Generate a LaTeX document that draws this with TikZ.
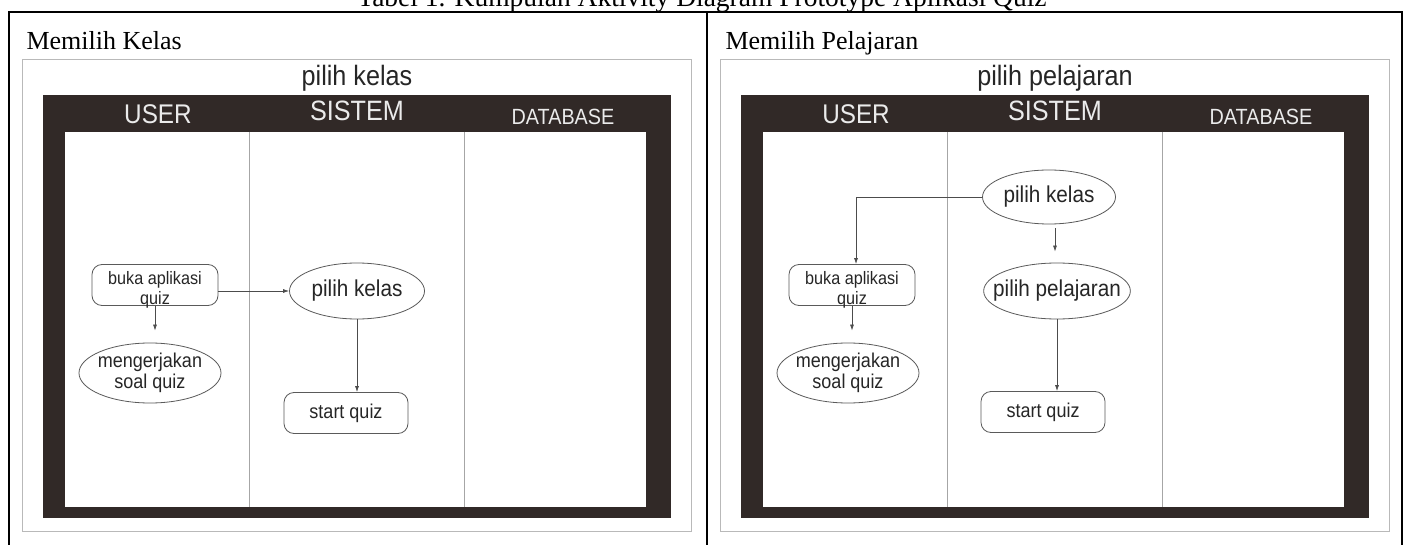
\documentclass[tikz,border=0pt]{standalone}
\usepackage{fontspec}
\setmainfont{Liberation Serif}
\newfontfamily\swfont[FakeStretch=0.9]{Liberation Sans}
\usetikzlibrary{shapes.geometric,arrows.meta}

\definecolor{band}{HTML}{312927}
\definecolor{edge}{HTML}{5A5A5A}

\tikzset{
  act/.style={draw=edge, line width=0.8pt, rounded corners=10pt, minimum width=126pt,
    minimum height=41pt, inner sep=0pt, align=center, text=black!85,
    font=\swfont\fontsize{18}{20}\selectfont},
  lowtext/.style={text height=39pt, text depth=0pt},
  bub/.style={ellipse, draw=edge, line width=0.8pt, inner sep=-12pt, align=center,
    text=black!85, font=\swfont\fontsize{20}{21}\selectfont},
  arr/.style={draw=black!70, line width=0.7pt, -{Latex[length=6pt,width=4pt]}},
  lanehead/.style={text=white!92!black, font=\swfont\fontsize{27}{30}\selectfont}
}

\begin{document}
\begin{tikzpicture}[x=1pt,y=-1pt]
  \useasboundingbox (0,0) rectangle (1410,545);
  % tabel
  \node (cap) [anchor=base, font=\fontsize{27.5}{30}\selectfont] at (702,7)
    {Tabel 1. Kumpulan Aktivity Diagram Prototype Aplikasi Quiz};
  \draw[line width=2pt] (9,545) -- (9,12.5) -- (1402,12.5) -- (1402,545);
  \draw[line width=2pt] (707,12.5) -- (707,545);
  \node (kiri) [anchor=base west, font=\fontsize{26}{30}\selectfont] at (23,50) {Memilih Kelas};
  \node (kanan) [anchor=base west, font=\fontsize{26}{30}\selectfont] at (722,50) {Memilih Pelajaran};

  % swimlane
  \foreach \dx/\ttl in {0/pilih kelas, 698/pilih pelajaran}{
  \begin{scope}[xshift=\dx pt]
    \draw[gray!55, line width=1pt, fill=white] (22,60) rectangle (691,531);
    \fill[band] (43,95) rectangle (671,518);
    \fill[white] (65,132) rectangle (646,507);
    \draw[gray!70, line width=0.7pt] (249,132) -- (249,507) (464,132) -- (464,507);
    \node (judul\dx) [text=black!85, font=\swfont\fontsize{28}{30}\selectfont] at (357,78) {\ttl};
    \node (user\dx) [lanehead] at (158,114) {USER};
    \node (sis\dx) [lanehead, font=\swfont\fontsize{28}{30}\selectfont] at (357,111) {SISTEM};
    \node (db\dx) [lanehead, font=\swfont\fontsize{22}{30}\selectfont] at (563,117) {DATABASE};
  \end{scope}
  }

  % pilih kelas
  \node (buka) [act, lowtext] at (155,285) {buka aplikasi\\quiz};
  \node (kerja) [bub, minimum width=142pt, minimum height=60pt] at (150,373) {mengerjakan\\soal quiz};
  \node (kelas) [bub, minimum width=135pt, minimum height=56pt, font=\swfont\fontsize{23}{25}\selectfont] at (357,291) {pilih kelas};
  \node (start) [act, minimum width=124pt, font=\swfont\fontsize{20}{22}\selectfont] at (346,413) {start quiz};
  \draw[arr] (buka.east |- kelas.west) -- (kelas.west);
  \draw[arr, shorten >=12pt] (buka.south) -- (buka.south |- kerja.north);
  \draw[arr] (kelas.south) -- (kelas.south |- start.north);

  % pilih pelajaran
  \node (kelas2) [bub, minimum width=133pt, minimum height=54pt, font=\swfont\fontsize{23}{25}\selectfont] at (1049,197) {pilih kelas};
  \node (ajar) [bub, minimum width=146pt, minimum height=56pt, font=\swfont\fontsize{23}{25}\selectfont] at (1057,291) {pilih pelajaran};
  \node (buka2) [act, lowtext] at (852,285) {buka aplikasi\\quiz};
  \node (kerja2) [bub, minimum width=142pt, minimum height=60pt] at (848,373) {mengerjakan\\soal quiz};
  \node (start2) [act, minimum width=124pt, font=\swfont\fontsize{20}{22}\selectfont] at (1043,412) {start quiz};
  \draw[arr] (kelas2.west) -| ([xshift=4pt]buka2.north);
  \draw[arr, shorten <=4pt, shorten >=11pt] ([xshift=6pt]kelas2.south) -- ([xshift=6pt]kelas2.south |- ajar.north);
  \draw[arr, shorten >=12pt] (buka2.south) -- (buka2.south |- kerja2.north);
  \draw[arr] (ajar.south) -- (ajar.south |- start2.north);
\end{tikzpicture}
\end{document}
